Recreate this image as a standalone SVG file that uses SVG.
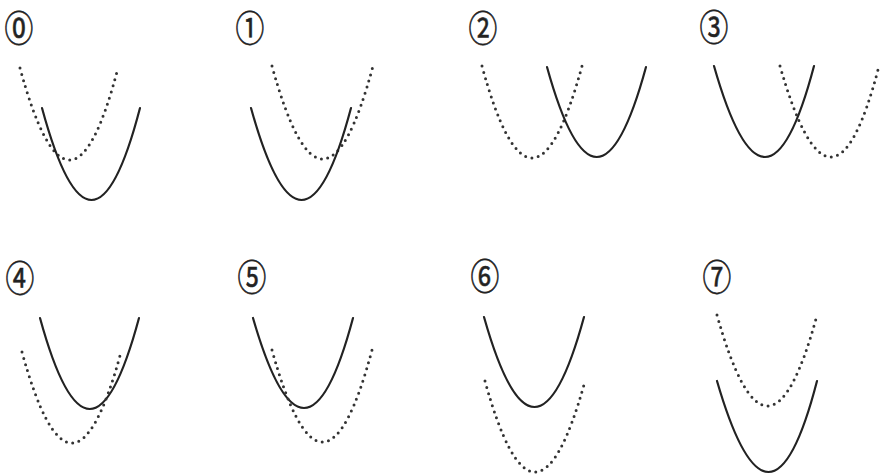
<svg xmlns="http://www.w3.org/2000/svg" width="881" height="475" viewBox="0 0 881 475">
<style>
.bg{fill:#fff}
.lbl{font-family:"Noto Sans CJK JP","DejaVu Sans",sans-serif;font-size:36px;font-weight:400;fill:#222;stroke:#222;stroke-width:0.6;text-anchor:middle}
.solid{fill:none;stroke:#222;stroke-width:2.2;stroke-linecap:round}
.dot{fill:none;stroke:#333;stroke-width:3;stroke-linecap:round;stroke-dasharray:0 6.4}
</style>
<rect class="bg" x="0" y="0" width="881" height="475"/>
<g id="panel0">
<text class="lbl" transform="translate(19,42) scale(0.8,1)">⓪</text>
<path class="dot" d="M20,68 Q70,252 118,68"/>
<path class="solid" d="M42,108 Q92,292 140,108"/>
</g>
<g id="panel1">
<text class="lbl" transform="translate(250,42) scale(0.8,1)">①</text>
<path class="dot" d="M272,66 Q323,252 373,66"/>
<path class="solid" d="M251,108 Q302,292 351,108"/>
</g>
<g id="panel2">
<text class="lbl" transform="translate(483,42) scale(0.8,1)">②</text>
<path class="dot" d="M482,66 Q532,250 582,66"/>
<path class="solid" d="M547,67 Q597,247 646,67"/>
</g>
<g id="panel3">
<text class="lbl" transform="translate(714,41) scale(0.8,1)">③</text>
<path class="solid" d="M714,66 Q766,248 814,66"/>
<path class="dot" d="M780,66 Q832,248 879,66"/>
</g>
<g id="panel4">
<text class="lbl" transform="translate(20,292) scale(0.8,1)">④</text>
<path class="solid" d="M40,318 Q90,500 139,318"/>
<path class="dot" d="M22,352 Q72,534 121,352"/>
</g>
<g id="panel5">
<text class="lbl" transform="translate(252,291) scale(0.8,1)">⑤</text>
<path class="solid" d="M253,318 Q305,498 353,318"/>
<path class="dot" d="M272,350 Q323,534 372,350"/>
</g>
<g id="panel6">
<text class="lbl" transform="translate(485,290) scale(0.8,1)">⑥</text>
<path class="solid" d="M484,317 Q535,497 584,317"/>
<path class="dot" d="M485,381 Q535,563 585,381"/>
</g>
<g id="panel7">
<text class="lbl" transform="translate(717,291) scale(0.8,1)">⑦</text>
<path class="dot" d="M717,315 Q768,497 817,315"/>
<path class="solid" d="M717,381 Q770,563 817,381"/>
</g>
<g id="connectors"></g>
</svg>
